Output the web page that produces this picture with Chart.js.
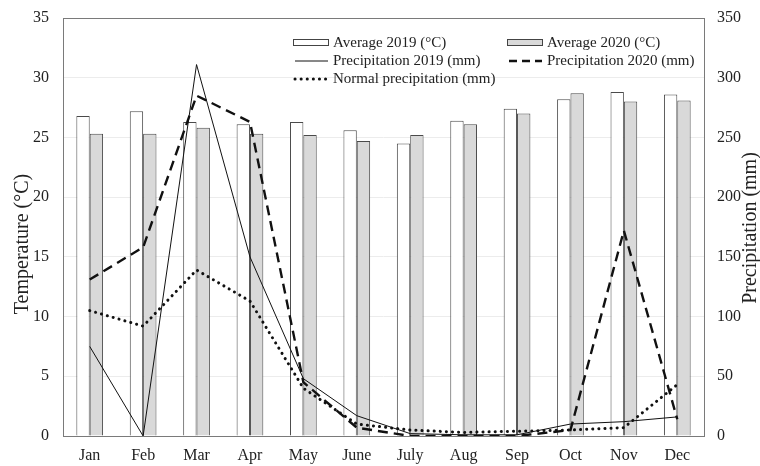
<!DOCTYPE html>
<html>
<head>
<meta charset="utf-8">
<script src="https://cdn.jsdelivr.net/npm/chart.js@4/dist/chart.umd.min.js"></script>
<style>
  html, body { margin: 0; padding: 0; background: #fff; }
  #wrap { width: 760px; height: 466px; }
</style>
</head>
<body>
<div id="wrap"><canvas id="chart" width="760" height="466"></canvas></div>
<script>
'use strict';

// data
const months = ['Jan', 'Feb', 'Mar', 'Apr', 'May', 'June', 'July', 'Aug', 'Sep', 'Oct', 'Nov', 'Dec'];
const avg2019 = [26.8, 27.2, 26.3, 26.1, 26.3, 25.6, 24.5, 26.4, 27.4, 28.2, 28.8, 28.6];
const avg2020 = [25.3, 25.3, 25.8, 25.3, 25.2, 24.7, 25.2, 26.1, 27.0, 28.7, 28.0, 28.1];
const precip2019 = [75, 0, 311, 150, 48, 17, 2, 1, 1, 10, 12, 16];
const precip2020 = [131, 158, 285, 263, 45, 7, 0, 0, 0, 5, 172, 14];
const precipNormal = [105, 92, 139, 113, 40, 10, 5, 3, 4, 5, 7, 43];
const tempTicks = [0, 5, 10, 15, 20, 25, 30, 35];
const precipTicks = [0, 50, 100, 150, 200, 250, 300, 350];
const leftTitle = 'Temperature (°C)';
const rightTitle = 'Precipitation (mm)';

const FONT = 'Liberation Serif';
const INK = '#222';
const DOTS = [0.1, 6];
const DASHES = [10, 6];

// box around the plot, axis titles and the legend inside the plot
const framePlugin = {
    id: 'frame',
    afterDraw: function (chart) {
        const ctx = chart.ctx;
        const a = chart.chartArea;
        ctx.save();
        ctx.strokeStyle = '#7a7a7a';
        ctx.lineWidth = 1;
        ctx.strokeRect(a.left + 0.5, a.top + 0.5, a.right - a.left, a.bottom - a.top);

        // axis titles (the left one sits a bit below the middle in the original)
        ctx.fillStyle = INK;
        ctx.font = '20px "' + FONT + '"';
        ctx.textAlign = 'center';
        ctx.textBaseline = 'middle';
        ctx.save();
        ctx.translate(23, 244);
        ctx.rotate(-Math.PI / 2);
        ctx.fillText(leftTitle, 0, 0);
        ctx.restore();
        ctx.save();
        ctx.translate(751, 228);
        ctx.rotate(-Math.PI / 2);
        ctx.fillText(rightTitle, 0, 0);
        ctx.restore();

        const items = [
            { text: 'Average 2019 (°C)', kind: 'box', fill: '#ffffff', col: 0, row: 0 },
            { text: 'Average 2020 (°C)', kind: 'box', fill: '#d9d9d9', col: 1, row: 0 },
            { text: 'Precipitation 2019 (mm)', kind: 'line', dash: [], width: 1, cap: 'butt', col: 0, row: 1 },
            { text: 'Precipitation 2020 (mm)', kind: 'line', dash: [8, 5], width: 2.4, cap: 'butt', col: 1, row: 1 },
            { text: 'Normal precipitation (mm)', kind: 'line', dash: DOTS, width: 3, cap: 'round', col: 0, row: 2 }
        ];
        const colX = [a.left + 230, a.left + 444];
        const rowY = [a.top + 25, a.top + 43, a.top + 61];
        ctx.font = '15px "' + FONT + '"';
        ctx.textAlign = 'left';
        ctx.textBaseline = 'middle';
        items.forEach(function (it) {
            const x = colX[it.col];
            const y = rowY[it.row];
            if (it.kind === 'box') {
                ctx.fillStyle = it.fill;
                ctx.fillRect(x, y - 3, 35, 6);
                ctx.strokeStyle = '#444';
                ctx.lineWidth = 1;
                ctx.strokeRect(x + 0.5, y - 3.5, 35, 6);
            } else {
                ctx.strokeStyle = '#111';
                ctx.lineWidth = it.width;
                ctx.setLineDash(it.dash);
                ctx.lineCap = it.cap;
                ctx.beginPath();
                ctx.moveTo(x + 2, y);
                ctx.lineTo(x + 35, y);
                ctx.stroke();
                ctx.setLineDash([]);
                ctx.lineCap = 'butt';
            }
            ctx.fillStyle = INK;
            ctx.fillText(it.text, x + 40, y);
        });
        ctx.restore();
    }
};

const lineDefaults = {
    type: 'line',
    yAxisID: 'yP',
    borderColor: '#111',
    pointRadius: 0,
    fill: false,
    tension: 0,
    order: 1
};

const CONFIG = {
    type: 'bar',
    data: {
        labels: months,
        datasets: [
            {
                label: 'Average 2019 (°C)',
                data: avg2019,
                yAxisID: 'yT',
                backgroundColor: '#ffffff',
                borderColor: '#4a4a4a',
                borderWidth: 1,
                order: 2
            },
            {
                label: 'Average 2020 (°C)',
                data: avg2020,
                yAxisID: 'yT',
                backgroundColor: '#d9d9d9',
                borderColor: '#4a4a4a',
                borderWidth: 1,
                order: 2
            },
            Object.assign({}, lineDefaults, {
                label: 'Precipitation 2019 (mm)',
                data: precip2019,
                borderWidth: 1
            }),
            Object.assign({}, lineDefaults, {
                label: 'Precipitation 2020 (mm)',
                data: precip2020,
                borderWidth: 2.4,
                borderDash: DASHES
            }),
            Object.assign({}, lineDefaults, {
                label: 'Normal precipitation (mm)',
                data: precipNormal,
                borderWidth: 3,
                borderDash: DOTS,
                borderCapStyle: 'round'
            })
        ]
    },
    options: {
        responsive: false,
        animation: false,
        layout: { padding: { top: 0, left: 0, right: 0, bottom: 0 } },
        datasets: {
            bar: { categoryPercentage: 0.5, barPercentage: 1.0 }
        },
        plugins: {
            legend: { display: false },
            tooltip: { enabled: false }
        },
        scales: {
            x: {
                grid: { display: false, drawTicks: false },
                border: { display: false },
                ticks: { color: INK, font: { family: FONT, size: 16 }, padding: 10 },
                afterFit: function (s) { s.height = 30; }
            },
            yT: {
                position: 'left',
                min: 0,
                max: 35,
                afterBuildTicks: function (s) {
                    s.ticks = tempTicks.map(function (v) { return { value: v }; });
                },
                grid: { color: '#ececec', drawTicks: false },
                border: { display: false },
                ticks: { color: INK, font: { family: FONT, size: 16 }, padding: 14 },
                afterFit: function (s) {
                    s.width = 63;
                    s.paddingTop = 18;
                    s.paddingBottom = 0;
                }
            },
            yP: {
                position: 'right',
                min: 0,
                max: 350,
                afterBuildTicks: function (s) {
                    s.ticks = precipTicks.map(function (v) { return { value: v }; });
                },
                grid: { display: false, drawTicks: false },
                border: { display: false },
                ticks: { color: INK, font: { family: FONT, size: 16 }, padding: 13 },
                afterFit: function (s) {
                    s.width = 56;
                    s.paddingTop = 18;
                    s.paddingBottom = 0;
                }
            }
        }
    },
    plugins: [framePlugin]
};

new Chart(document.querySelector('#chart'), CONFIG);
</script>
</body>
</html>
